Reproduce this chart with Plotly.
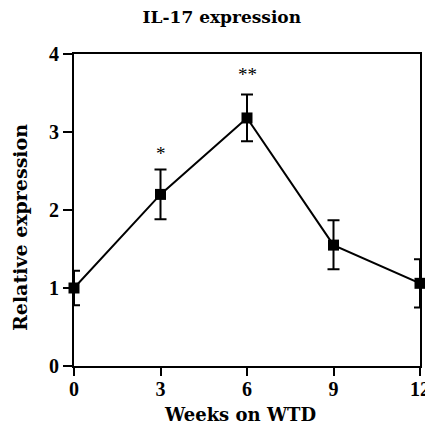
import plotly.graph_objects as go

weeks = [0, 3, 6, 9, 12]
expr = [1.0, 2.2, 3.18, 1.55, 1.06]
err_up = [0.22, 0.32, 0.30, 0.32, 0.31]
err_down = [0.22, 0.32, 0.30, 0.31, 0.31]
sig_labels = ["", "*", "**", "", ""]
sig_y = [None, 2.72, 3.74, None, None]
y_ticks = [0, 1, 2, 3, 4]

font_fam = "Liberation Serif, DejaVu Serif, serif"
title_fam = "DejaVu Serif, Liberation Serif, serif"

fig = go.Figure()
fig.add_trace(go.Scatter(
    x=weeks, y=expr, mode="lines+markers",
    line=dict(color="black", width=2),
    marker=dict(symbol="square", size=11, color="black"),
    error_y=dict(type="data", symmetric=False, array=err_up, arrayminus=err_down,
                 color="black", thickness=2, width=6),
    cliponaxis=False, showlegend=False,
))
for w, s, yy in zip(weeks, sig_labels, sig_y):
    if s:
        fig.add_annotation(x=w, y=yy, text=s, showarrow=False,
                           font=dict(family=font_fam, size=19, color="#000000"))

fig.add_annotation(text="<b>Weeks on WTD</b>", xref="paper", yref="paper",
                   x=(240 - 74) / 346, y=-(415 - 366) / 312, xanchor="center", yanchor="middle",
                   showarrow=False, font=dict(family=title_fam, size=18, color="#000000"))
fig.add_annotation(text="<b>Relative expression</b>", xref="paper", yref="paper",
                   x=-(74 - 20) / 346, y=(366 - 228) / 312, xanchor="center", yanchor="middle",
                   textangle=-90, showarrow=False,
                   font=dict(family=title_fam, size=19, color="#000000"))

fig.update_layout(
    width=425, height=426,
    margin=dict(l=74, r=5, t=54, b=60),
    paper_bgcolor="white", plot_bgcolor="white",
    title=dict(text="<b>IL-17 expression</b>", x=0.522, xanchor="center",
               y=1 - 17 / 426, yanchor="middle",
               font=dict(family=title_fam, size=17, color="black")),
    font=dict(family=font_fam, color="black"),
)
fig.update_xaxes(
    range=[0, 12], tickvals=weeks, ticktext=[f"<b>{w}</b>" for w in weeks],
    ticks="outside", ticklen=8, tickwidth=2, tickcolor="black",
    showline=True, linecolor="black", linewidth=2, mirror=True,
    showgrid=False, zeroline=False, automargin=False, ticklabeloverflow="allow",
    ticklabelstandoff=-4,
    tickfont=dict(family=font_fam, size=20, color="black"),
)
fig.update_yaxes(
    range=[0, 4], tickvals=y_ticks,
    ticktext=[f"<b>{v}</b>" for v in y_ticks],
    ticks="outside", ticklen=9, tickwidth=2, tickcolor="black",
    showline=True, linecolor="black", linewidth=2, mirror=True,
    showgrid=False, zeroline=False, automargin=False,
    tickfont=dict(family=font_fam, size=20, color="black"),
)
fig.write_html("out.html")
